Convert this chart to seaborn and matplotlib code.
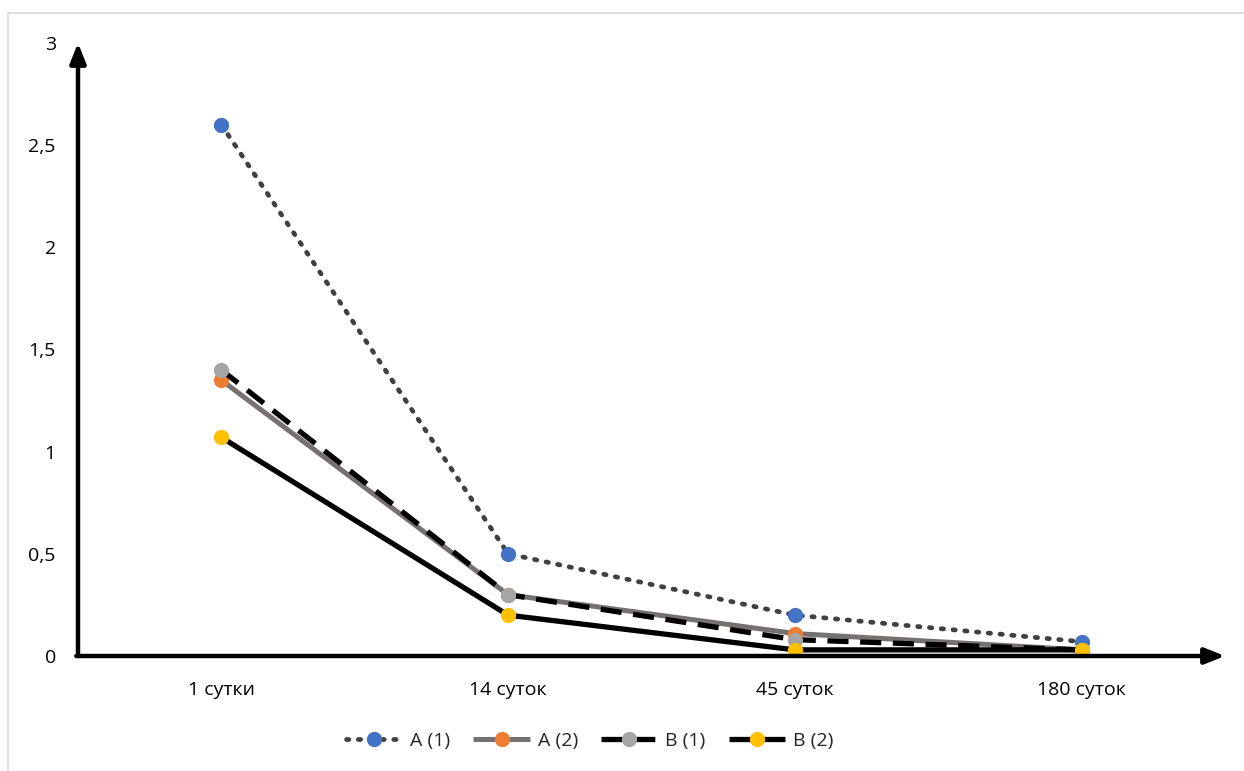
import matplotlib
matplotlib.use("Agg")
import matplotlib.pyplot as plt
import seaborn as sns
import pandas as pd
from matplotlib.patches import Rectangle
from matplotlib.lines import Line2D

sns.set_theme(style="white")
plt.rcParams['font.family'] = ['Open Sans', 'DejaVu Sans']

categories = ["1 сутки", "14 суток", "45 суток", "180 суток"]
series_names = ["A (1)", "A (2)", "B (1)", "B (2)"]
a1 = [2.60, 0.50, 0.20, 0.07]
a2 = [1.35, 0.30, 0.11, 0.03]
b1 = [1.40, 0.30, 0.08, 0.03]
b2 = [1.07, 0.20, 0.03, 0.03]
values = [a1, a2, b1, b2]
yticks = [0, 0.5, 1, 1.5, 2, 2.5, 3]
ytick_labels = ["0", "0,5", "1", "1,5", "2", "2,5", "3"]

styles = [
    dict(color="#404040", ls=(0, (0.5, 2.0)), lw=3.4, mc="#4472C4", cap="round"),
    dict(color="#767171", ls="-", lw=3.6, mc="#ED7D31", cap="butt"),
    dict(color="#000000", ls=(0, (4.0, 2.2)), lw=3.8, mc="#A5A5A5", cap="butt"),
    dict(color="#000000", ls="-", lw=3.8, mc="#FFC000", cap="butt"),
]

FS = 14
W, H = 1244, 771
fig = plt.figure(figsize=(W / 100, H / 100), dpi=100)
# light border
fig.patches.append(Rectangle((8 / W, -0.1), 1.2, (H - 13) / H + 0.1, transform=fig.transFigure,
                             fill=False, edgecolor="#D9D9D9", lw=1.2))

left, right, bottom_px, top_px = 78, 1225, 656, 43
ax = fig.add_axes([left / W, (H - bottom_px) / H, (right - left) / W, (bottom_px - top_px) / H])
ax.set_facecolor("none")

x_idx = list(range(len(categories)))
for name, vals, st in zip(series_names, values, styles):
    df = pd.DataFrame({"x": x_idx, "y": vals})
    sns.lineplot(data=df, x="x", y="y", ax=ax, color=st["color"], linestyle=st["ls"],
                 linewidth=st["lw"], marker="o", markersize=11, markerfacecolor=st["mc"],
                 markeredgecolor=st["mc"], markeredgewidth=0, clip_on=False,
                 solid_capstyle=st["cap"], dash_capstyle=st["cap"])

ax.set_xlim(-0.5, 3.5)
ax.set_ylim(0, 3)
ax.set_xticks(x_idx)
ax.set_xticklabels(categories, fontsize=FS, color="#000000")
ax.set_yticks(yticks)
ax.set_yticklabels(ytick_labels, fontsize=FS, color="#000000")
ax.tick_params(axis="x", length=0, pad=18)
ax.tick_params(axis="y", length=0, pad=16)
ax.set_xlabel("")
ax.set_ylabel("")
for s in ax.spines.values():
    s.set_visible(False)

# axis arrows
ax.annotate("", xy=(0, 1.0), xytext=(0, 0), xycoords="axes fraction",
            arrowprops=dict(arrowstyle="-|>,head_length=1.0,head_width=0.4", lw=3.2, color="black",
                            shrinkA=0, shrinkB=0))
ax.annotate("", xy=(1.0, 0), xytext=(-0.0015, 0), xycoords="axes fraction",
            arrowprops=dict(arrowstyle="-|>,head_length=1.0,head_width=0.4", lw=3.2, color="black",
                            shrinkA=0, shrinkB=0))

handles = []
for name, st in zip(series_names, styles):
    handles.append(Line2D([0], [0], color=st["color"], linestyle=st["ls"], linewidth=st["lw"],
                          marker="o", markersize=11, markerfacecolor=st["mc"],
                          markeredgecolor=st["mc"], markeredgewidth=0,
                          solid_capstyle=st["cap"], dash_capstyle=st["cap"]))
fig.legend(handles, series_names, loc="center", bbox_to_anchor=(0.474, (H - 741) / H), ncol=4,
           frameon=False, fontsize=FS, handlelength=2.9, columnspacing=1.2, handletextpad=0.4)

fig.savefig("out.png", dpi=100)
